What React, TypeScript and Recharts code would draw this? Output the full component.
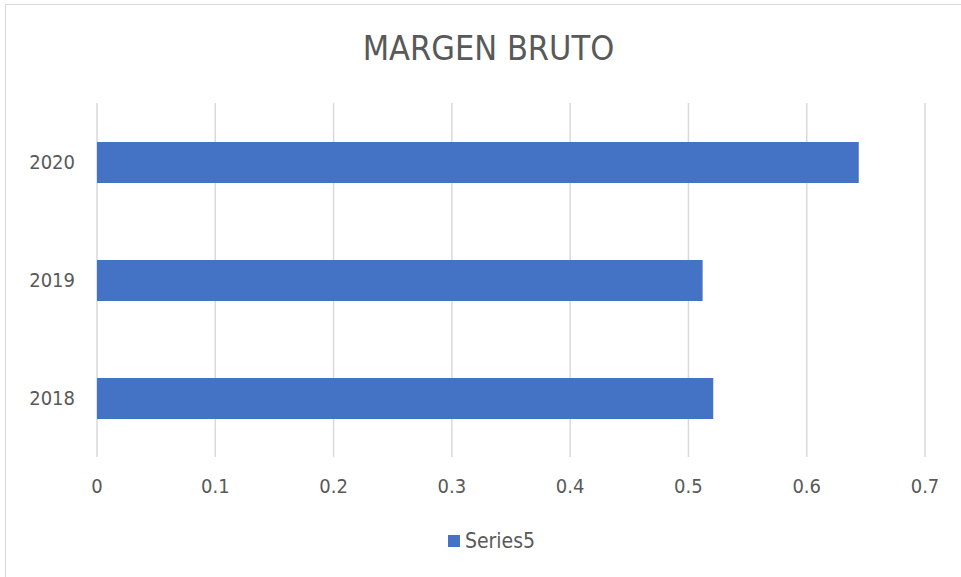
import React from "react";
import { BarChart, Bar, XAxis, YAxis, CartesianGrid, Legend } from "recharts";

const years = ["2018", "2019", "2020"];
const series5 = [0.521, 0.512, 0.644];
const xTicks = [0, 0.1, 0.2, 0.3, 0.4, 0.5, 0.6, 0.7];

const data = years.map((year, i) => ({ year, Series5: series5[i] }));

const FONT = "'Liberation Sans Narrow', 'DejaVu Sans Condensed', 'Open Sans', sans-serif";
const TEXT = "#595959";

function LegendContent() {
  return (
    <div
      style={{
        display: "flex",
        justifyContent: "center",
        alignItems: "center",
        height: 20,
        paddingLeft: 22,
        fontFamily: FONT,
        fontSize: 21,
        color: TEXT,
      }}
    >
      <span style={{ width: 12, height: 12, background: "#4472C4", marginRight: 5 }} />
      <span>Series5</span>
    </div>
  );
}

export default function App() {
  return (
    <div
      style={{
        position: "absolute",
        left: 0,
        top: 0,
        width: 961,
        height: 577,
        overflow: "hidden",
        background: "#fff",
      }}
    >
      <div
        style={{
          position: "absolute",
          left: 5,
          top: 4,
          width: 980,
          height: 600,
          border: "1px solid #d9d9d9",
          boxSizing: "border-box",
        }}
      />
      <div
        style={{
          position: "absolute",
          left: 8,
          top: 28,
          width: 961,
          textAlign: "center",
          fontFamily: FONT,
          fontSize: 34,
          color: TEXT,
        }}
      >
        MARGEN BRUTO
      </div>
      <BarChart
        width={961}
        height={577}
        data={data}
        layout="vertical"
        margin={{ top: 83, right: 36, bottom: 0, left: 0 }}
        style={{ position: "absolute", left: 0, top: 0 }}
      >
        <CartesianGrid horizontal={false} stroke="#d9d9d9" strokeWidth={1.5} />
        <XAxis
          type="number"
          domain={[0, 0.7]}
          ticks={xTicks}
          height={120}
          axisLine={false}
          tickLine={false}
          tickSize={0}
          tickMargin={22}
          tick={{ fill: TEXT, fontSize: 20, fontFamily: FONT }}
          interval={0}
        />
        <YAxis
          type="category"
          dataKey="year"
          reversed
          width={97}
          axisLine={false}
          tickLine={false}
          tickSize={0}
          tickMargin={22}
          tick={{ fill: TEXT, fontSize: 20, fontFamily: FONT }}
        />
        <Legend
          verticalAlign="top"
          content={<LegendContent />}
          wrapperStyle={{ top: 531, left: 0, width: 961 }}
        />
        <Bar dataKey="Series5" fill="#4472C4" barSize={41} isAnimationActive={false} />
      </BarChart>
    </div>
  );
}
